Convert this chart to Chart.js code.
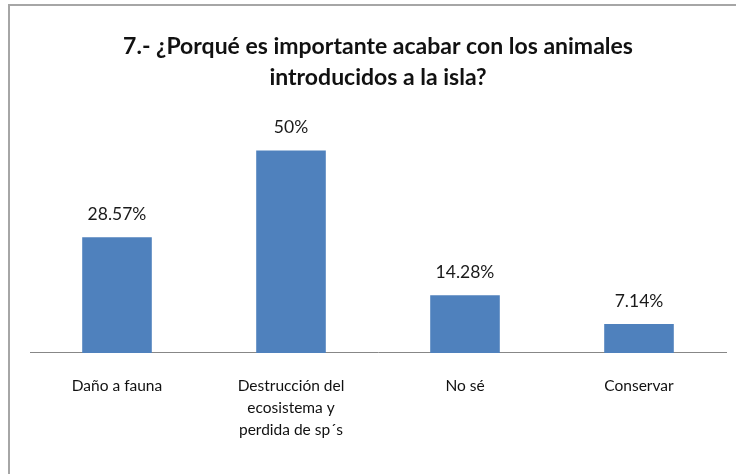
<!DOCTYPE html>
<html>
<head>
<meta charset="utf-8">
<script src="https://cdn.jsdelivr.net/npm/chart.js@4"></script>
<style>
  html, body { margin: 0; padding: 0; background: #fff; }
  #wrap { position: relative; width: 736px; height: 474px; overflow: hidden; }
  #frame { position: absolute; left: 8px; top: 4px; width: 740px; height: 480px;
           border-top: 2px solid #a6a6a6; border-left: 2px solid #a6a6a6; box-sizing: border-box; pointer-events: none; }
  canvas { position: absolute; left: 0; top: 0; }
</style>
</head>
<body>
<div id="wrap">
  <canvas id="c" width="736" height="474"></canvas>
  <div id="frame"></div>
</div>
<script>
const titleLines = ["7.- ¿Porqué es importante acabar con los animales", "introducidos a la isla?"];
const categories = [["Daño a fauna"], ["Destrucción del", "ecosistema y", "perdida de sp´s"], ["No sé"], ["Conservar"]];
const values = [28.57, 50, 14.28, 7.14];
const valueLabels = ["28.57%", "50%", "14.28%", "7.14%"];

const FONT = "Lato, 'Open Sans', sans-serif";

const dataLabelPlugin = {
  id: 'dataLabels',
  afterDatasetsDraw(chart) {
    const ctx = chart.ctx;
    const meta = chart.getDatasetMeta(0);
    ctx.save();
    ctx.font = "17.5px " + FONT;
    ctx.fillStyle = "#1a1a1a";
    ctx.textAlign = "center";
    ctx.textBaseline = "middle";
    meta.data.forEach((bar, i) => {
      ctx.fillText(valueLabels[i], bar.x, bar.y - 23);
    });
    ctx.restore();
  }
};

new Chart(document.getElementById('c'), {
  type: 'bar',
  data: {
    labels: categories,
    datasets: [{
      data: values,
      backgroundColor: '#4F81BD',
      borderWidth: 0,
      barPercentage: 0.4,
      categoryPercentage: 1.0
    }]
  },
  options: {
    responsive: false,
    animation: false,
    devicePixelRatio: 1,
    layout: { padding: { left: 30, right: 10, top: 0, bottom: 11 } },
    plugins: {
      legend: { display: false },
      tooltip: { enabled: false },
      title: {
        display: true,
        text: titleLines,
        color: '#111',
        font: { family: FONT, size: 23, weight: 'bold', lineHeight: 1.35 },
        padding: { top: 31, bottom: 17 }
      }
    },
    scales: {
      x: {
        grid: { display: false, drawTicks: false },
        border: { display: true, color: '#878787', width: 1 },
        ticks: {
          color: '#111',
          font: { family: FONT, size: 15.5, lineHeight: 1.42 },
          padding: 22,
          maxRotation: 0,
          autoSkip: false
        }
      },
      y: {
        display: false,
        min: 0,
        max: 60
      }
    }
  },
  plugins: [dataLabelPlugin]
});
</script>
</body>
</html>
